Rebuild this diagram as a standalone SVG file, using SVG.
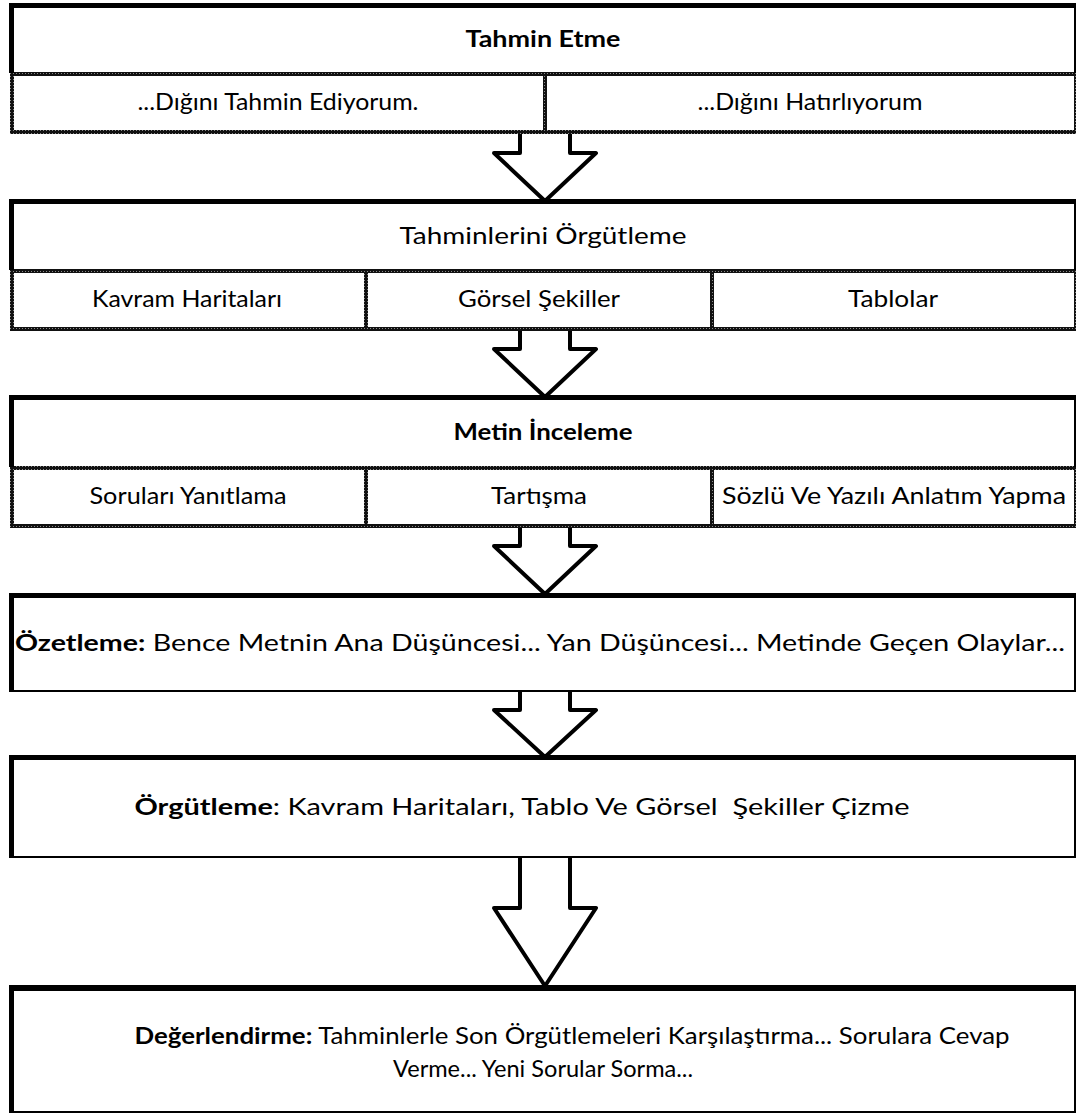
<svg xmlns="http://www.w3.org/2000/svg" width="1078" height="1115" viewBox="0 0 1078 1115">
<style>
text{font-family:Lato,"Open Sans","Noto Sans",sans-serif;font-size:23px;fill:#000;text-anchor:middle}
.b{font-weight:bold}
.s{fill:#000}
.h{fill:url(#hatch)}
.arrow{fill:#fff;stroke:#000;stroke-width:4;stroke-linejoin:round}
</style>
<defs>
<pattern id="hatch" width="3" height="3" patternUnits="userSpaceOnUse">
<rect width="3" height="3" fill="#111"/>
<rect x="1" y="1" width="1" height="1" fill="#8a8a8a"/>
</pattern>
</defs>
<rect width="1078" height="1115" fill="#fff"/>

<g id="connectors">
<path class="arrow" d="M520,134 V153 H494 L545,201 L596,153 H570 V134"/>
<path class="arrow" d="M520,330 V349 H494 L545,397 L596,349 H570 V330"/>
<path class="arrow" d="M520,527 V546 H494 L545,594 L596,546 H570 V527"/>
<path class="arrow" d="M520,691 V710 H494 L545,757 L596,710 H570 V691"/>
<path class="arrow" d="M520,857 V908 H494 L545,986 L596,908 H570 V857"/>
</g>

<g id="tahmin-etme">
<rect class="h" x="10" y="72" width="1066" height="4"/>
<rect class="h" x="10" y="72" width="4" height="62"/>
<rect class="h" x="10" y="130" width="1066" height="4"/>
<rect class="h" x="1074" y="72" width="2" height="62"/>
<rect class="h" x="543" y="72" width="4" height="62"/>
<rect class="s" x="10" y="3" width="1066" height="5"/>
<rect class="s" x="9" y="3" width="5" height="70"/>
<rect class="s" x="1074" y="3" width="2" height="70"/>
<text class="b" x="543" y="47" textLength="155" lengthAdjust="spacingAndGlyphs">Tahmin Etme</text>
<text x="278" y="110" textLength="281" lengthAdjust="spacingAndGlyphs">...Dığını Tahmin Ediyorum.</text>
<text x="810" y="110" textLength="225" lengthAdjust="spacingAndGlyphs">...Dığını Hatırlıyorum</text>
</g>

<g id="tahminlerini-orgutleme">
<rect class="h" x="10" y="269" width="1066" height="4"/>
<rect class="h" x="10" y="269" width="4" height="62"/>
<rect class="h" x="10" y="327" width="1066" height="4"/>
<rect class="h" x="1074" y="269" width="2" height="62"/>
<rect class="h" x="364" y="269" width="4" height="62"/>
<rect class="h" x="710" y="269" width="4" height="62"/>
<rect class="s" x="10" y="199" width="1066" height="5"/>
<rect class="s" x="9" y="199" width="5" height="71"/>
<rect class="s" x="1074" y="199" width="2" height="71"/>
<text x="543" y="244" textLength="287" lengthAdjust="spacingAndGlyphs">Tahminlerini Örgütleme</text>
<text x="187" y="307" textLength="190" lengthAdjust="spacingAndGlyphs">Kavram Haritaları</text>
<text x="539" y="307" textLength="162" lengthAdjust="spacingAndGlyphs">Görsel Şekiller</text>
<text x="893" y="307" textLength="90" lengthAdjust="spacingAndGlyphs">Tablolar</text>
</g>

<g id="metin-inceleme">
<rect class="h" x="10" y="466" width="1066" height="4"/>
<rect class="h" x="10" y="466" width="4" height="62"/>
<rect class="h" x="10" y="524" width="1066" height="4"/>
<rect class="h" x="1074" y="466" width="2" height="62"/>
<rect class="h" x="364" y="466" width="4" height="62"/>
<rect class="h" x="710" y="466" width="4" height="62"/>
<rect class="s" x="10" y="395" width="1066" height="5"/>
<rect class="s" x="9" y="395" width="5" height="72"/>
<rect class="s" x="1074" y="395" width="2" height="72"/>
<text class="b" x="543" y="440" textLength="179" lengthAdjust="spacingAndGlyphs">Metin İnceleme</text>
<text x="188" y="504" textLength="197" lengthAdjust="spacingAndGlyphs">Soruları Yanıtlama</text>
<text x="539" y="504" textLength="96" lengthAdjust="spacingAndGlyphs">Tartışma</text>
<text x="894" y="504" textLength="344" lengthAdjust="spacingAndGlyphs">Sözlü Ve Yazılı Anlatım Yapma</text>
</g>

<g id="ozetleme">
<rect class="s" x="9" y="593" width="1067" height="5"/>
<rect class="s" x="9" y="593" width="5" height="99"/>
<rect class="s" x="1074" y="593" width="2" height="99"/>
<rect class="s" x="9" y="690" width="1067" height="2"/>
<text x="540" y="651" textLength="1050" lengthAdjust="spacingAndGlyphs"><tspan class="b">Özetleme:</tspan> Bence Metnin Ana Düşüncesi... Yan Düşüncesi... Metinde Geçen Olaylar...</text>
</g>

<g id="orgutleme">
<rect class="s" x="9" y="755" width="1067" height="5"/>
<rect class="s" x="9" y="755" width="5" height="103"/>
<rect class="s" x="1074" y="755" width="2" height="103"/>
<rect class="s" x="9" y="856" width="1067" height="2"/>
<text xml:space="preserve" x="522" y="815" textLength="775" lengthAdjust="spacingAndGlyphs"><tspan class="b">Örgütleme</tspan>: Kavram Haritaları, Tablo Ve Görsel  Şekiller Çizme</text>
</g>

<g id="degerlendirme">
<rect class="s" x="9" y="985" width="1067" height="6"/>
<rect class="s" x="9" y="985" width="5" height="128"/>
<rect class="s" x="1074" y="985" width="2" height="128"/>
<rect class="s" x="9" y="1111" width="1067" height="2"/>
<text x="572" y="1044" textLength="875" lengthAdjust="spacingAndGlyphs"><tspan class="b">Değerlendirme:</tspan> Tahminlerle Son Örgütlemeleri Karşılaştırma... Sorulara Cevap</text>
<text x="543" y="1077" textLength="300" lengthAdjust="spacingAndGlyphs">Verme... Yeni Sorular Sorma...</text>
</g>
</svg>
